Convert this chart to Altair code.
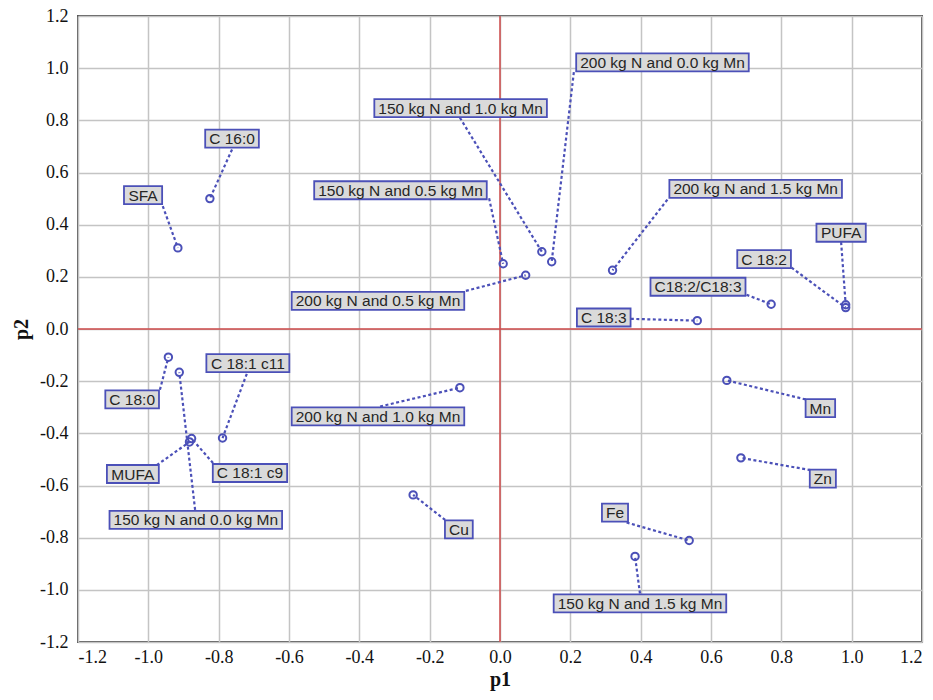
import altair as alt
import pandas as pd

# ---- data ----
names = ["SFA", "C 16:0", "150 kg N and 0.5 kg Mn", "150 kg N and 1.0 kg Mn",
         "200 kg N and 0.0 kg Mn", "200 kg N and 0.5 kg Mn", "200 kg N and 1.5 kg Mn",
         "PUFA", "C 18:2", "C18:2/C18:3", "C 18:3", "C 18:0", "150 kg N and 0.0 kg Mn",
         "C 18:1 c9", "MUFA", "C 18:1 c11", "200 kg N and 1.0 kg Mn", "Cu", "Fe",
         "150 kg N and 1.5 kg Mn", "Mn", "Zn"]
p1 = [-0.916, -0.825, 0.009, 0.119, 0.147, 0.073, 0.320, 0.983, 0.983, 0.771, 0.561,
      -0.943, -0.912, -0.877, -0.883, -0.789, -0.114, -0.247, 0.538, 0.384, 0.645, 0.685]
p2 = [0.311, 0.500, 0.250, 0.296, 0.258, 0.206, 0.225, 0.093, 0.082, 0.095, 0.032,
      -0.108, -0.166, -0.420, -0.433, -0.418, -0.225, -0.636, -0.811, -0.872, -0.197, -0.494]
# label centres (data units)
lab_p1 = [-1.015, -0.762, -0.283, -0.112, 0.462, -0.347, 0.727, 0.970, 0.751, 0.563, 0.295,
          -1.046, -0.865, -0.711, -1.044, -0.717, -0.347, -0.117, 0.327, 0.398, 0.911, 0.918]
lab_p2 = [0.513, 0.730, 0.532, 0.847, 1.022, 0.108, 0.537, 0.369, 0.268, 0.162, 0.044,
          -0.270, -0.732, -0.552, -0.556, -0.131, -0.335, -0.768, -0.704, -1.052, -0.303, -0.574]
# where each leader line leaves its label (data units)
lead_p1 = [-0.959, -0.762, -0.031, -0.114, 0.210, -0.097, 0.476, 0.970, 0.829, 0.701, 0.372,
           -0.967, -0.867, -0.816, -0.976, -0.720, -0.341, -0.156, 0.360, 0.398, 0.869, 0.883]
lead_p2 = [0.471, 0.688, 0.501, 0.810, 0.985, 0.146, 0.496, 0.333, 0.235, 0.131, 0.039,
           -0.233, -0.693, -0.514, -0.522, -0.172, -0.297, -0.732, -0.742, -1.014, -0.270, -0.541]
ticks = [-1.2, -1.0, -0.8, -0.6, -0.4, -0.2, 0.0, 0.2, 0.4, 0.6, 0.8, 1.0, 1.2]

# ---- layout ----
W, H = 844, 626
FS = 15.5
PAD = 4
BOX_H = 18
BLUE = "#4b50b8"

# Arial / Liberation Sans advance widths (1/1000 em)
AW = {" ": 278, ".": 278, ":": 278, "/": 278, "A": 667, "C": 722, "F": 611, "M": 833,
      "N": 722, "P": 667, "S": 667, "U": 722, "Z": 611, "a": 556, "c": 500, "d": 556,
      "e": 556, "g": 556, "k": 500, "n": 556, "u": 556}


def text_px(s):
    return sum(AW.get(ch, 556) for ch in s) / 1000.0 * FS


xu = 2.4 / W
yu = 2.4 / H
df = pd.DataFrame({"name": names, "p1": p1, "p2": p2, "lx": lab_p1, "ly": lab_p2,
                   "ax": lead_p1, "ay": lead_p2})
df["bx1"] = [lx - (text_px(n) / 2 + PAD) * xu for lx, n in zip(lab_p1, names)]
df["bx2"] = [lx + (text_px(n) / 2 + PAD) * xu for lx, n in zip(lab_p1, names)]
df["by1"] = [ly - BOX_H / 2 * yu for ly in lab_p2]
df["by2"] = [ly + BOX_H / 2 * yu for ly in lab_p2]

lab_expr = "replace(format(datum.value, '.1f'), '\u2212', '-')"
xs = alt.Scale(domain=[-1.2, 1.2], nice=False, zero=False)
ys = alt.Scale(domain=[-1.2, 1.2], nice=False, zero=False)
xaxis = alt.Axis(values=ticks, labelExpr=lab_expr, title="p1", grid=True, domain=False,
                 ticks=False, labelPadding=6, titlePadding=3)
yaxis = alt.Axis(values=ticks, labelExpr=lab_expr, title="p2", grid=True, domain=False,
                 ticks=False, labelPadding=10, titlePadding=8)

base = alt.Chart(df)

grid = base.mark_point(opacity=0).encode(
    x=alt.X("p1:Q", scale=xs, axis=xaxis),
    y=alt.Y("p2:Q", scale=ys, axis=yaxis),
)

zero_h = alt.Chart(pd.DataFrame({"v": [0.0]})).mark_rule(color="#cf4b4b", strokeWidth=1.5).encode(
    y=alt.Y("v:Q", scale=ys))
zero_v = alt.Chart(pd.DataFrame({"v": [0.0]})).mark_rule(color="#cf4b4b", strokeWidth=1.5).encode(
    x=alt.X("v:Q", scale=xs))

leaders = base.mark_rule(color=BLUE, strokeWidth=2.2, strokeDash=[3, 2.5]).encode(
    x=alt.X("ax:Q", scale=xs), y=alt.Y("ay:Q", scale=ys),
    x2="p1:Q", y2="p2:Q")

points = base.mark_point(shape="circle", filled=False, color=BLUE, size=55,
                         strokeWidth=2, opacity=1).encode(
    x=alt.X("p1:Q", scale=xs), y=alt.Y("p2:Q", scale=ys))

boxes = base.mark_rect(fill="#dadada", stroke=BLUE, strokeWidth=1.8).encode(
    x=alt.X("bx1:Q", scale=xs), x2="bx2:Q",
    y=alt.Y("by1:Q", scale=ys), y2="by2:Q")

texts = base.mark_text(font="Liberation Sans", fontSize=FS, color="#262626",
                       align="center", baseline="middle", dy=0.5).encode(
    x=alt.X("lx:Q", scale=xs), y=alt.Y("ly:Q", scale=ys), text="name:N")

chart = alt.layer(grid, zero_h, zero_v, leaders, points, boxes, texts).properties(
    width=W, height=H,
    autosize=alt.AutoSizeParams(type="none"),
    padding={"left": 70, "top": 8, "right": 3, "bottom": 50},
    background="white",
).configure_view(stroke="#555555", strokeWidth=2).configure_axis(
    gridColor="#c4c4c4", gridWidth=1.5, gridOpacity=1,
    labelFont="Liberation Serif", labelFontSize=18, labelColor="#111111",
    titleFont="Liberation Serif", titleFontSize=20, titleFontWeight="bold", titleColor="#111111",
)

chart.save("out.html", embed_options={"renderer": "svg", "actions": False})
